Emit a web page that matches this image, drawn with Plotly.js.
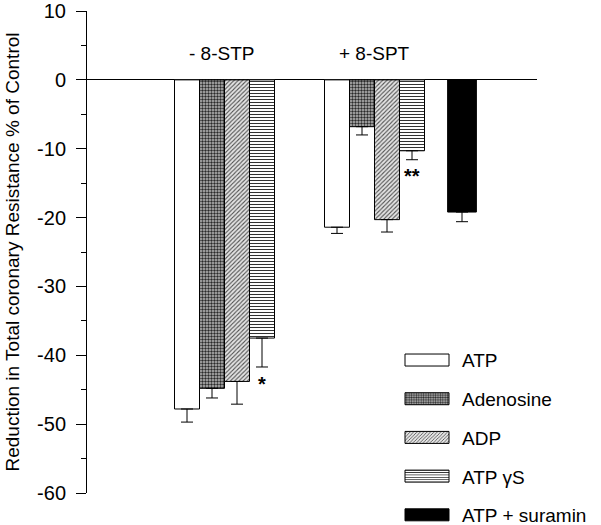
<!DOCTYPE html>
<html>
<head>
<meta charset="utf-8">
<script src="https://cdn.plot.ly/plotly-3.0.1.min.js"></script>
<style>html,body{margin:0;padding:0;background:#fff;}#chart{width:601px;height:525px;}</style>
</head>
<body>
<div id="chart"></div>
<script>
// ---- data ----
const groups = ["- 8-STP", "+ 8-SPT"];
const seriesNames = ["ATP", "Adenosine", "ADP", "ATP \u03b3S", "ATP + suramin"];
const atpMean = [-47.8, -21.4];
const atpErr = [1.9, 0.9];
const adenosineMean = [-44.8, -6.8];
const adenosineErr = [1.4, 1.2];
const adpMean = [-43.8, -20.3];
const adpErr = [3.3, 1.8];
const atpGsMean = [-37.5, -10.3];
const atpGsErr = [4.2, 1.3];
const suraminMean = [null, -19.2];
const suraminErr = [null, 1.4];
const significance = ["*", "**"]; // on ATP γS bars
const yTickVals = [10, 0, -10, -20, -30, -40, -50, -60];
const yTickText = ["10", "0", "-10", "-20", "-30", "-40", "-50", "-60"];

const FONT = "Arial, 'Liberation Sans', sans-serif";
const means = [atpMean, adenosineMean, adpMean, atpGsMean, suraminMean];
const errs = [atpErr, adenosineErr, adpErr, atpGsErr, suraminErr];

const styles = [
  {color: "#ffffff", pattern: {shape: ""}},
  {color: "#888888", pattern: {shape: ".", bgcolor: "#bdbdbd", fgcolor: "#2a2a2a", size: 3, solidity: 0.5, fillmode: "replace"}},
  {color: "#bbbbbb", pattern: {shape: "/", bgcolor: "#e4e4e4", fgcolor: "#505050", size: 3, solidity: 0.35, fillmode: "replace"}},
  {color: "#ffffff", pattern: {shape: "-", bgcolor: "#ffffff", fgcolor: "#333333", size: 3, solidity: 0.35, fillmode: "replace"}},
  {color: "#000000", pattern: {shape: ""}}
];

// layout slot for each bar: groups of bars side by side, suramin after one-bar gap
function slot(g, i) { return 4 + 6 * g + i + (i === 4 ? 1 : 0); }

const traces = seriesNames.map((name, i) => {
  const xs = [], ys = [], es = [];
  groups.forEach((gname, g) => {
    if (means[i][g] !== null) { xs.push(slot(g, i)); ys.push(means[i][g]); es.push(errs[i][g]); }
  });
  return {
    type: "bar", name: name, x: xs, y: ys,
    width: i === 4 ? 1.15 : 1,
    legendgroup: "g" + i,
    marker: {color: styles[i].color, pattern: styles[i].pattern, line: {color: "#000", width: 1}},
    error_y: {type: "data", symmetric: false, array: es.map(() => 0), arrayminus: es,
              color: "#000", thickness: 1, width: 6},
    hoverinfo: "y"
  };
});

const annotations = [];
groups.forEach((gname, g) => {
  annotations.push({x: slot(g, 0), xanchor: "left", y: 3.9, xref: "x", yref: "y", text: gname, showarrow: false,
    font: {family: FONT, size: 19, color: "#000"}});
  const v = atpGsMean[g] - atpGsErr[g];
  annotations.push({x: slot(g, 3), y: v - 2.4, xref: "x", yref: "y", text: "<b>" + significance[g] + "</b>",
    showarrow: false, font: {family: FONT, size: 20, color: "#000"}});
});

const layout = {
  width: 601, height: 525,
  margin: {l: 87, r: 64, t: 11, b: 32, autoexpand: false},
  paper_bgcolor: "#fff", plot_bgcolor: "#fff",
  showlegend: true,
  barmode: "overlay",
  font: {family: FONT, size: 19, color: "#000"},
  xaxis: {range: [0, 18], visible: false, fixedrange: true},
  yaxis: {
    range: [-60, 10], tickmode: "array", tickvals: yTickVals, ticktext: yTickText,
    showgrid: false, zeroline: true, zerolinecolor: "#000", zerolinewidth: 1,
    showline: true, linecolor: "#000", linewidth: 1,
    ticks: "outside", ticklen: 10, tickcolor: "#000", tickwidth: 1, ticklabelstandoff: 6,
    minor: {tickmode: "linear", tick0: 0, dtick: 5, ticks: "outside", ticklen: 5, tickcolor: "#000", tickwidth: 1, showgrid: false},
    tickfont: {family: FONT, size: 20, color: "#000"},
    title: {text: "Reduction in Total coronary Resistance % of Control", standoff: 12,
            font: {family: FONT, size: 19, color: "#000"}}
  },
  legend: {x: 0.70, y: 0.315, xanchor: "left", yanchor: "top", traceorder: "grouped",
           itemwidth: 50, tracegroupgap: 11, bgcolor: "rgba(0,0,0,0)",
           font: {family: FONT, size: 19, color: "#000"}},
  annotations: annotations
};

Plotly.newPlot("chart", traces, layout, {displayModeBar: false, staticPlot: true}).then(() => {
  // widen the legend swatches to match the wide boxes of the original figure
  document.querySelectorAll("#chart .legend .legendpoints path").forEach(p => {
    p.setAttribute("d", "M17,6H-27V-6H17Z");
  });
});
</script>
</body>
</html>
